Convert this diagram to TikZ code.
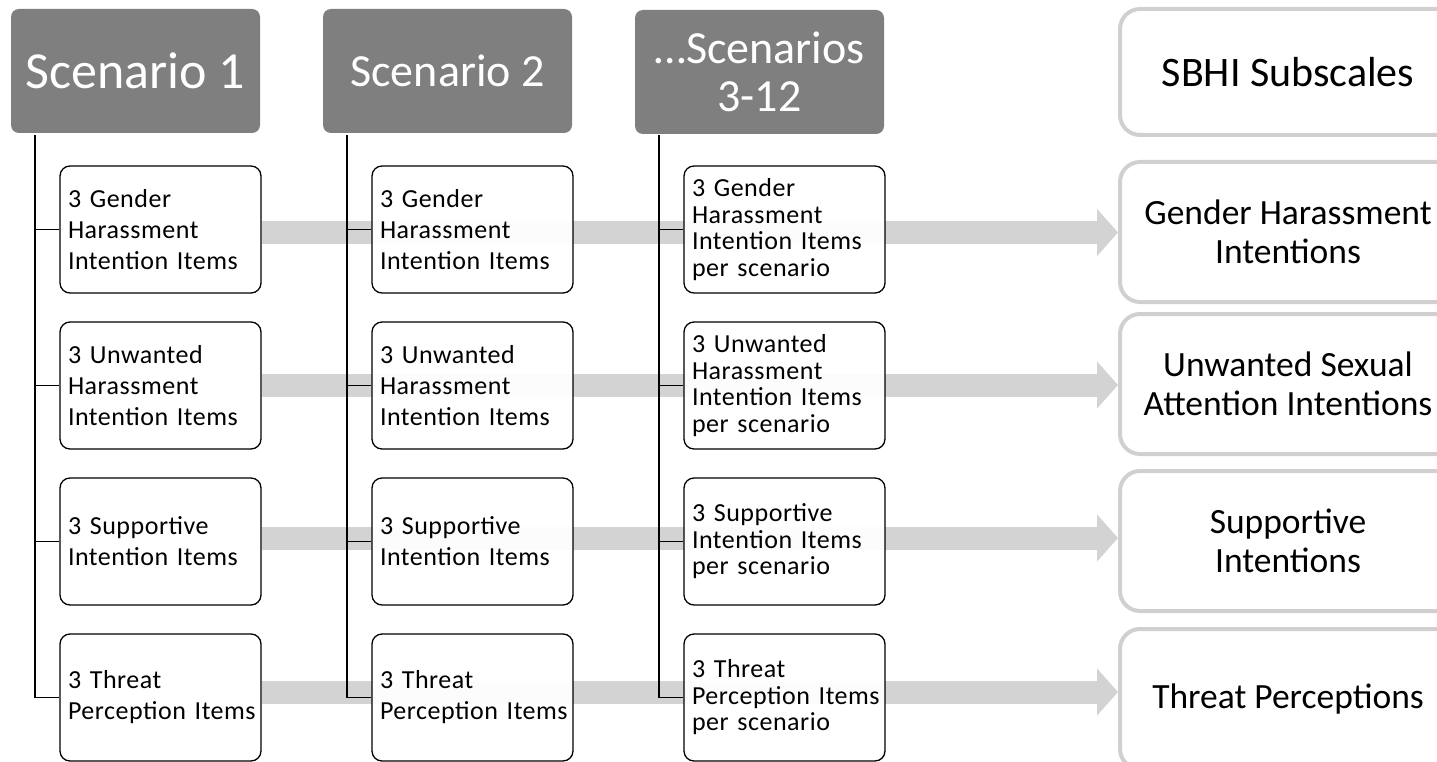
\documentclass[tikz,border=0pt]{standalone}
\usepackage{fontspec}
\setmainfont{Carlito}
\newfontfamily\itemfont[LetterSpace=2]{Carlito}
\usetikzlibrary{arrows.meta,backgrounds,calc}
\definecolor{hdrgray}{HTML}{7F7F7F}
\definecolor{bandgray}{HTML}{D3D3D3}
\definecolor{outgray}{HTML}{D0D0D0}
\begin{document}
\begin{tikzpicture}[x=1pt,y=-1pt,
  hdr/.style={fill=hdrgray, rounded corners=8pt, minimum width=249pt, minimum height=124pt,
    text=white, inner sep=0pt, align=center},
  itembox/.style={draw=black, line width=1.3pt, fill=white, rounded corners=10pt,
    text width=185pt, inner xsep=8pt, inner ysep=0pt, minimum height=127pt, align=left,
    font=\itemfont\fontsize{26}{31}\selectfont},
  itemboxb/.style={itembox, fill opacity=0.95, text opacity=1},
  itemboxc/.style={itemboxb, font=\itemfont\fontsize{26}{26.5}\selectfont},
  outbox/.style={draw=outgray, line width=4pt, fill=white, rounded corners=20pt,
    minimum width=336pt, minimum height=140pt, inner sep=0pt, align=center,
    font=\fontsize{35.5}{39}\selectfont},
  trunk/.style={draw=black, line width=1.8pt},
  branch/.style={draw=black, line width=1.3pt},
  band/.style={draw=bandgray, line width=23pt, -{Triangle[width=46pt,length=21pt]}}
]
\useasboundingbox (0,0) rectangle (1437,762);
\clip (0,0) rectangle (1437,762);

% headers
\node[hdr, font=\fontsize{52}{56}\selectfont] (h1) at (135.5,71) {Scenario 1};
\node[hdr, font=\fontsize{46}{50}\selectfont] (h2) at (447.5,71) {Scenario 2};
\node[hdr, font=\fontsize{46}{48}\selectfont] (h3) at (759.5,72) {…Scenarios\\3-12};

% column 1
\node[itembox] (b11) at (160.5,229.5) {3 Gender\\Harassment\\\mbox{Intention Items}};
\node[itembox] (b12) at (160.5,385.5) {3 Unwanted\\Harassment\\\mbox{Intention Items}};
\node[itembox] (b13) at (160.5,541.5) {3 Supportive\\\mbox{Intention Items}};
\node[itembox] (b14) at (160.5,697.5) {3 Threat\\\mbox{Perception Items}};

% column 2
\node[itemboxb] (b21) at (472.5,229.5) {3 Gender\\Harassment\\\mbox{Intention Items}};
\node[itemboxb] (b22) at (472.5,385.5) {3 Unwanted\\Harassment\\\mbox{Intention Items}};
\node[itemboxb] (b23) at (472.5,541.5) {3 Supportive\\\mbox{Intention Items}};
\node[itemboxb] (b24) at (472.5,697.5) {3 Threat\\\mbox{Perception Items}};

% column 3
\node[itemboxc] (b31) at (784.5,229.5) {3 Gender\\Harassment\\\mbox{Intention Items}\\per scenario};
\node[itemboxc] (b32) at (784.5,385.5) {3 Unwanted\\Harassment\\\mbox{Intention Items}\\per scenario};
\node[itemboxc] (b33) at (784.5,541.5) {3 Supportive\\\mbox{Intention Items}\\per scenario};
\node[itemboxc] (b34) at (784.5,697.5) {3 Threat\\\mbox{Perception Items}\\per scenario};

% right subscale boxes
\node[outbox, minimum height=126pt, font=\fontsize{42}{46}\selectfont] (s0) at (1288,72) {SBHI Subscales};
\node[outbox] (r1) at (1288,232) {Gender Harassment\\Intentions};
\node[outbox] (r2) at (1288,384) {Unwanted Sexual\\Attention Intentions};
\node[outbox] (r3) at (1288,541) {Supportive\\Intentions};
\node[outbox] (r4) at (1288,699) {Threat Perceptions};

% trunks and branches
\coordinate (v1) at (35,135);
\coordinate (v2) at (347,135);
\coordinate (v3) at (659,135);
\foreach \c in {1,2,3} {
  \draw[trunk] (v\c) |- (b\c4.west);
  \foreach \r in {1,2,3} {
    \draw[branch] (v\c |- b\c\r.west) -- (b\c\r.west);
  }
}

% gray arrows behind
\begin{pgfonlayer}{background}
\draw[band] ($(b11.east |- r1.west)+(0,0.5)$) -- ($(r1.west)+(0,0.5)$);
\draw[band] ($(b12.east |- r2.west)+(0,1)$) -- ($(r2.west)+(0,1)$);
\draw[band] ($(b13.east |- r3.west)+(0,-3)$) -- ($(r3.west)+(0,-3)$);
\draw[band] ($(b14.east |- r4.west)+(0,-7)$) -- ($(r4.west)+(0,-7)$);
\end{pgfonlayer}
\end{tikzpicture}
\end{document}
